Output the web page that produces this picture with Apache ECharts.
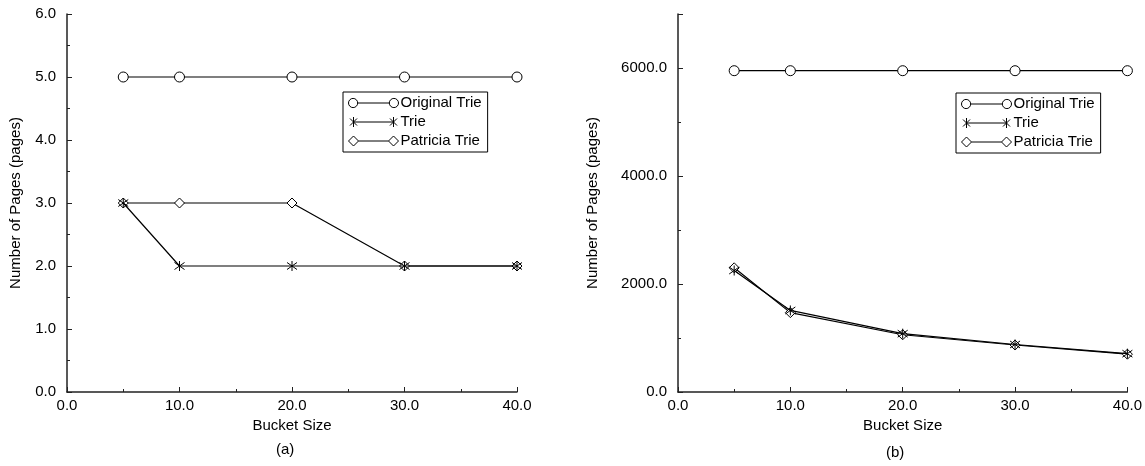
<!DOCTYPE html>
<html>
<head>
<meta charset="utf-8">
<script src="https://cdn.jsdelivr.net/npm/echarts@6/dist/echarts.min.js"></script>
<style>
html,body{margin:0;padding:0;background:#fff;}
#chart{width:1145px;height:466px;}
</style>
</head>
<body>
<div id="chart"></div>
<script>
// ---- data ----
const bucketSizes = [5, 10, 20, 30, 40];
const seriesNames = ['Original Trie', 'Trie', 'Patricia Trie'];
// chart (a)
const pagesA_original = [5, 5, 5, 5, 5];
const pagesA_trie = [3, 2, 2, 2, 2];
const pagesA_patricia = [3, 3, 3, 2, 2];
// chart (b)
const pagesB_original = [5950, 5950, 5950, 5950, 5950];
const pagesB_trie = [2250, 1510, 1080, 880, 710];
const pagesB_patricia = [2300, 1470, 1060, 870, 700];
// tick labels
const xTickLabels = [0, 10, 20, 30, 40];
const yTickLabelsA = [0, 1, 2, 3, 4, 5, 6];
const yTickLabelsB = [0, 2000, 4000, 6000];
const panelLabels = ['(a)', '(b)'];

// ---- styling ----
const FONT = 'Liberation Sans, Arial, sans-serif';
const AX = '#222';
const symCircle = 'path://M0,5a5,5 0 1,0 10,0a5,5 0 1,0 -10,0';
const symStar = 'path://M5,0L5,10M1.2,1.5L8.8,8.5M1.2,8.5L8.8,1.5';
const symDiamond = 'path://M0,5L5,0L10,5L5,10Z';
const legCircle = 'path://M0.5,5a4.5,4.5 0 1,0 9,0a4.5,4.5 0 1,0 -9,0M9.5,5L40.5,5M40.5,5a4.5,4.5 0 1,0 9,0a4.5,4.5 0 1,0 -9,0';
const legStar = 'path://M5,0L5,10M1.5,1.5L8.5,8.5M1.5,8.5L8.5,1.5M5,5L45,5M45,0L45,10M41.5,1.5L48.5,8.5M41.5,8.5L48.5,1.5';
const legDiamond = 'path://M0,5L5,0L10,5L5,10ZM10,5L40,5M40,5L45,0L50,5L45,10Z';
const symbols = [symCircle, symStar, symDiamond];
const legIcons = [legCircle, legStar, legDiamond];

function fmt1(v) { return Number(v).toFixed(1); }

function xAxisCfg(gridIndex) {
  return {
    type: 'value', gridIndex, min: 0, max: 40, interval: 10,
    name: 'Bucket Size', nameLocation: 'middle', nameGap: 24,
    nameTextStyle: { fontFamily: FONT, fontSize: 15, color: '#000' },
    axisLine: { show: true, lineStyle: { color: AX, width: 1.5 } },
    axisTick: { show: true, inside: true, length: 5, lineStyle: { color: AX } },
    minorTick: { show: true, splitNumber: 2, length: 3, lineStyle: { color: AX } },
    splitLine: { show: false }, minorSplitLine: { show: false },
    axisLabel: {
      fontFamily: FONT, fontSize: 15, color: '#000', margin: 6,
      formatter: v => xTickLabels.includes(v) ? fmt1(v) : ''
    }
  };
}

function mkSeries(xi, yi, data, idx) {
  return {
    type: 'line', name: seriesNames[idx], xAxisIndex: xi, yAxisIndex: yi,
    data: bucketSizes.map((x, i) => [x, data[i]]),
    symbol: symbols[idx], symbolSize: 10,
    z: idx === 1 ? 4 : 3,
    itemStyle: { color: '#fff', borderColor: '#000', borderWidth: 1 },
    lineStyle: { color: '#000', width: 1.2 },
    emphasis: { disabled: true },
    animation: false
  };
}

function legendCfg(left, top) {
  return {
    show: true, orient: 'vertical', left, top,
    data: seriesNames.map((n, i) => ({ name: n, icon: legIcons[i] })),
    itemWidth: 50, itemHeight: 10, itemGap: 3,
    padding: [3, 6, 3, 5],
    borderColor: '#000', borderWidth: 1, backgroundColor: '#fff',
    selectedMode: false,
    itemStyle: { color: '#fff', borderColor: '#000', borderWidth: 1 },
    textStyle: { fontFamily: FONT, fontSize: 15, color: '#000', lineHeight: 16, padding: [0, 0, 0, -3] }
  };
}

const chart = echarts.init(document.getElementById('chart'), null, { renderer: 'canvas' });
chart.setOption({
  backgroundColor: '#fff',
  animation: false,
  grid: [
    { left: 67, top: 14, width: 450, height: 378 },
    { left: 678, top: 14, width: 450, height: 378 }
  ],
  xAxis: [xAxisCfg(0), xAxisCfg(1)],
  yAxis: [
    {
      type: 'value', gridIndex: 0, position: 'left', min: 0, max: 6, interval: 1,
      name: 'Number of Pages (pages)', nameLocation: 'middle', nameGap: 44,
      nameTextStyle: { fontFamily: FONT, fontSize: 15, color: '#000' },
      axisLine: { show: true, lineStyle: { color: AX, width: 1.5 } },
      axisTick: { show: true, inside: true, length: 5, lineStyle: { color: AX } },
      minorTick: { show: true, splitNumber: 2, length: 3, lineStyle: { color: AX } },
      splitLine: { show: false },
      axisLabel: {
        fontFamily: FONT, fontSize: 15, color: '#000', margin: 11,
        formatter: v => yTickLabelsA.includes(v) ? fmt1(v) : ''
      }
    },
    {
      type: 'value', gridIndex: 1, position: 'left', min: 0, max: 7000, interval: 1000,
      name: 'Number of Pages (pages)', nameLocation: 'middle', nameGap: 78,
      nameTextStyle: { fontFamily: FONT, fontSize: 15, color: '#000' },
      axisLine: { show: true, lineStyle: { color: AX, width: 1.5 } },
      axisTick: { show: true, inside: true, length: 3, lineStyle: { color: AX } },
      splitLine: { show: false },
      axisLabel: {
        fontFamily: FONT, fontSize: 15, color: '#000', margin: 11,
        formatter: v => yTickLabelsB.includes(v) ? fmt1(v) : ''
      }
    },
    {
      type: 'value', gridIndex: 1, position: 'left', offset: 0, min: 0, max: 7000, interval: 2000,
      axisLine: { show: false },
      axisTick: { show: true, inside: true, length: 5, lineStyle: { color: AX } },
      splitLine: { show: false },
      axisLabel: { show: false }
    }
  ],
  legend: [legendCfg(343, 92), legendCfg(956, 93)],
  series: [
    mkSeries(0, 0, pagesA_original, 0),
    mkSeries(0, 0, pagesA_trie, 1),
    mkSeries(0, 0, pagesA_patricia, 2),
    mkSeries(1, 1, pagesB_original, 0),
    mkSeries(1, 1, pagesB_trie, 1),
    mkSeries(1, 1, pagesB_patricia, 2)
  ],
  graphic: [
    { type: 'text', left: 276, top: 442, style: { text: panelLabels[0], font: '15px ' + FONT, fill: '#000' } },
    { type: 'text', left: 886, top: 445, style: { text: panelLabels[1], font: '15px ' + FONT, fill: '#000' } }
  ]
});
</script>
</body>
</html>
